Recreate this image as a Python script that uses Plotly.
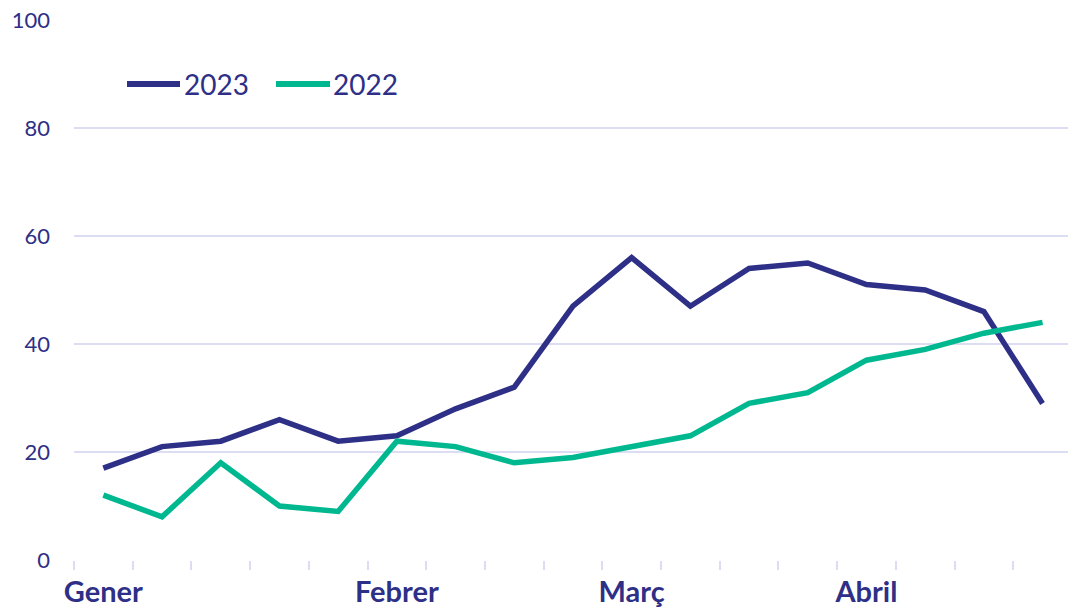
import plotly.graph_objects as go

# ---- data ----
weeks = list(range(17))
series_2023 = [17, 21, 22, 26, 22, 23, 28, 32, 47, 56, 47, 54, 55, 51, 50, 46, 29]
series_2022 = [12, 8, 18, 10, 9, 22, 21, 18, 19, 21, 23, 29, 31, 37, 39, 42, 44]
month_positions = [0, 5, 9, 13]
month_labels = ["Gener", "Febrer", "Març", "Abril"]
y_ticks = [0, 20, 40, 60, 80, 100]

NAVY = "#2E2F86"
TEAL = "#00B890"
GRID = "#DCDCF2"
FONT = "Lato, 'Open Sans', sans-serif"

W, H = 1068, 610
ML, MR, MT, MB = 74, 0, 20, 50

fig = go.Figure()
fig.add_trace(go.Scatter(x=weeks, y=series_2023, mode="lines", name="2023",
                         line=dict(color=NAVY, width=5.5), showlegend=False))
fig.add_trace(go.Scatter(x=weeks, y=series_2022, mode="lines", name="2022",
                         line=dict(color=TEAL, width=5.5), showlegend=False))
# dummy trace to activate the label axis
fig.add_trace(go.Scatter(x=[month_positions[0]], y=[None], xaxis="x2",
                         showlegend=False, hoverinfo="skip"))

xr = [-0.5, -0.5 + (W - ML) / 58.7]

fig.update_layout(
    width=W, height=H,
    margin=dict(l=ML, r=MR, t=MT, b=MB, autoexpand=False),
    paper_bgcolor="white", plot_bgcolor="white",
    font=dict(family=FONT, color=NAVY),
    xaxis=dict(range=xr, tickvals=[i - 0.5 for i in range(18)], ticktext=[""] * 18,
               ticks="outside", ticklen=9, tickwidth=2, tickcolor=GRID,
               showgrid=False, zeroline=False, showline=False, automargin=False),
    xaxis2=dict(range=xr, overlaying="x", side="bottom", anchor="y",
                tickvals=month_positions, ticktext=month_labels,
                ticks="", showgrid=False, zeroline=False, showline=False,
                automargin=False, ticklabelstandoff=12,
                tickfont=dict(family=FONT, size=29, color=NAVY, weight="bold")),
    yaxis=dict(range=[0, 100], tickvals=y_ticks, showgrid=True, gridcolor=GRID,
               gridwidth=2, zeroline=False, showline=False, ticks="",
               ticklabelstandoff=23, automargin=False,
               tickfont=dict(family=FONT, size=22, color=NAVY)),
    showlegend=False,
)

# manual legend
def px_x(p):
    return (p - ML) / (W - ML - MR)

def px_y(p):
    return (H - MB - p) / (H - MT - MB)

leg_y = px_y(84)
for x0, x1, col, tx, label in [(127, 180, NAVY, 182, "2023"), (276, 330, TEAL, 331, "2022")]:
    fig.add_shape(type="line", xref="paper", yref="paper",
                  x0=px_x(x0), x1=px_x(x1), y0=leg_y, y1=leg_y,
                  line=dict(color=col, width=6))
    fig.add_annotation(xref="paper", yref="paper", x=px_x(tx), y=leg_y,
                       text=label, showarrow=False, xanchor="left", yanchor="middle",
                       font=dict(family=FONT, size=28, color=NAVY))

fig.write_html("out.html", config={"displayModeBar": False},
               post_script="document.body.style.margin='0';document.body.style.overflow='hidden';")
